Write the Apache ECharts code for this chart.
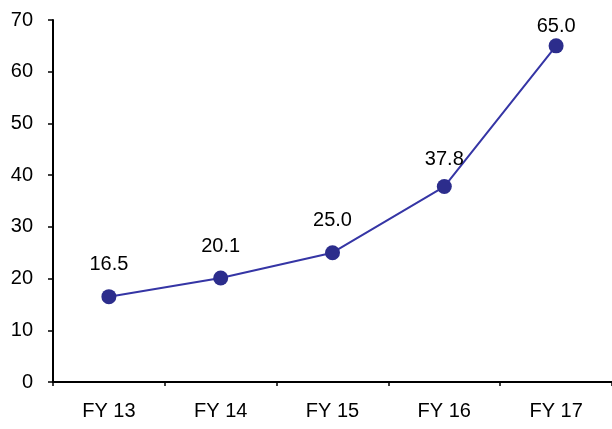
<!DOCTYPE html>
<html><head><meta charset="utf-8">
<script src="https://cdn.jsdelivr.net/npm/echarts@6/dist/echarts.min.js"></script>
<style>html,body{margin:0;padding:0;background:#fff}#c{width:612px;height:429px}</style>
</head><body><div id="c"></div>
<script>
const categories = ['FY 13','FY 14','FY 15','FY 16','FY 17'];
const values = [16.5, 20.1, 25.0, 37.8, 65.0];
const yTicks = [0,10,20,30,40,50,60,70];

const font = '"Liberation Sans", Arial, sans-serif';
const labelGap = [15, 14, 15, 10, 2];
const chart = echarts.init(document.getElementById('c'));
chart.setOption({
  animation:false,
  grid:{left:53, right:-3, top:20, bottom:47, containLabel:false},
  xAxis:{type:'category', data:categories, boundaryGap:true,
    axisLine:{lineStyle:{color:'#000', width:2}},
    axisTick:{show:true, inside:false, length:4, lineStyle:{color:'#000', width:1.5}},
    axisLabel:{color:'#000', fontSize:20, fontFamily:font, margin:19},
    splitLine:{show:false}},
  yAxis:{type:'value', min:yTicks[0], max:yTicks[yTicks.length-1], interval:10,
    axisLine:{show:true, lineStyle:{color:'#000', width:2}},
    axisTick:{show:true, length:5, lineStyle:{color:'#000', width:1.5}},
    axisLabel:{color:'#000', fontSize:20, fontFamily:font, margin:20},
    splitLine:{show:false}},
  series:[{type:'line',
    data:values.map((v,i)=>({value:v, label:{distance:labelGap[i]}})),
    symbol:'circle', symbolSize:15,
    lineStyle:{color:'#3535a5', width:2},
    itemStyle:{color:'#2c2d8c'},
    label:{show:true, position:'top', color:'#000', fontSize:20, fontFamily:font,
      formatter:p=>p.value.toFixed(1)}}]
});
</script></body></html>
